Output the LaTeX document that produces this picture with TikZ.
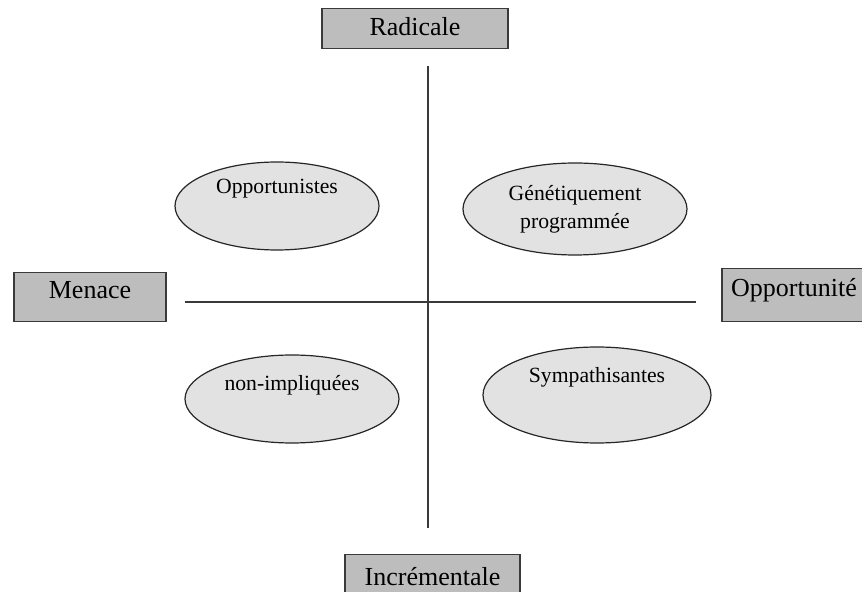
\documentclass[tikz,border=0pt]{standalone}
\usepackage{fontspec}
\setmainfont{Liberation Serif}
\usetikzlibrary{shapes.geometric}

\definecolor{boxgray}{HTML}{BDBDBD}
\definecolor{ovalgray}{HTML}{E2E2E2}
\definecolor{linegray}{HTML}{3A3A3A}

\tikzset{
  pole/.style={draw=linegray,line width=0.6pt,fill=boxgray,inner sep=0pt,
    font=\fontsize{13}{15}\selectfont,anchor=north},
  group/.style={ellipse,draw=black!85,line width=0.6pt,fill=ovalgray,inner sep=0pt,
    font=\fontsize{10.85}{14}\selectfont,align=center},
  axis/.style={draw=linegray,line width=1pt}
}

\begin{document}
\begin{tikzpicture}[x=0.5pt,y=-0.5pt]
      \useasboundingbox (0,0) rectangle (862,592);

      \node [pole,minimum width=93pt,text height=13.5pt,text depth=6.5pt] (R) at (415,8) {Radicale};
      \node [pole,minimum width=76pt,text height=13pt,text depth=11.5pt] (M) at (90,272) {Menace};
      \node [pole,minimum width=72pt,text height=14pt,text depth=12.5pt] (O) at (794,268) {Opportunité};
      \node [pole,minimum width=87.5pt,text height=15.5pt,text depth=9.5pt] (I) at (432.5,554) {Incrémentale};

      \node [group,minimum width=102pt,minimum height=44pt,text height=8pt,text depth=20pt] (A) at (277,206) {Opportunistes};
      \node [group,minimum width=112pt,minimum height=46pt] (B) at (575,209) {Génétiquement\\programmée};
      \node [group,minimum width=107pt,minimum height=44pt,text height=8pt,text depth=16pt] (C) at (292,399) {non-impliquées};
      \node [group,minimum width=114pt,minimum height=48pt,text height=8pt,text depth=20pt] (D) at (597,395) {Sympathisantes};

      \coordinate (top) at (428,66);
      \coordinate (bottom) at (428,528);
      \coordinate (left) at (185,302);
      \coordinate (right) at (696,302);

      \foreach \from/\to in {top/bottom,left/right}
        \draw [axis] (\from) -- (\to);
    \end{tikzpicture}
\end{document}
